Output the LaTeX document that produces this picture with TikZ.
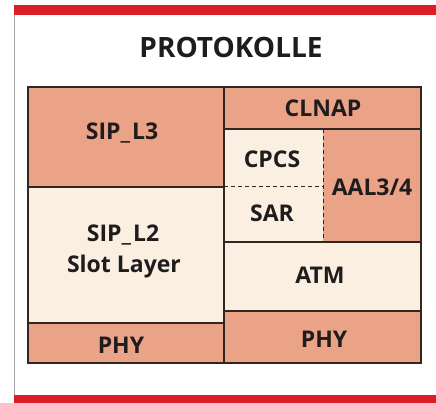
\documentclass[tikz,border=0pt]{standalone}
\usepackage{fontspec}
\setmainfont{Open Sans}
\definecolor{salmon}{RGB}{235,163,135}
\definecolor{cream}{RGB}{250,239,224}
\definecolor{redbar}{RGB}{218,30,40}
\definecolor{edge}{RGB}{50,38,34}
\definecolor{txt}{RGB}{30,28,28}
\tikzset{
  lbl/.style={font=\bfseries\fontsize{23}{27}\selectfont, text=txt, inner sep=0pt, anchor=center, align=center},
  cell/.style={draw=edge, line width=1.2pt},
  dashline/.style={draw=edge, line width=1pt, dash pattern=on 4pt off 3pt}
}
\begin{document}
\begin{tikzpicture}[x=1pt,y=-1pt]
\useasboundingbox (0,0) rectangle (436,403);
\fill[white] (0,0) rectangle (436,403);
% red bars
\fill[redbar] (14,5) rectangle (436,15);
\fill[redbar] (14,395) rectangle (436,403);
% left frame line
\draw[gray!70, line width=0.8pt] (14,15) -- (14,395);
% title
\node[lbl, font=\bfseries\fontsize{28}{32}\selectfont] (title) at (231,47) {PROTOKOLLE};
% cells
\fill[salmon] (28,87) rectangle (224,187);
\fill[cream] (28,187) rectangle (224,323);
\fill[salmon] (28,323) rectangle (224,363);
\fill[salmon] (224,87) rectangle (421,129);
\fill[cream] (224,129) rectangle (323,242);
\fill[salmon] (323,129) rectangle (421,242);
\fill[cream] (224,242) rectangle (421,311);
\fill[salmon] (224,311) rectangle (421,363);
% borders
\draw[cell] (28,87) rectangle (421,363);
\draw[cell] (224,87) -- (224,363);
\draw[cell] (28,187) -- (224,187);
\draw[cell] (28,323) -- (224,323);
\draw[cell] (224,129) -- (421,129);
\draw[cell] (224,242) -- (421,242);
\draw[cell] (224,311) -- (421,311);
\draw[dashline] (224,187) -- (323,187);
\draw[dashline] (323,129) -- (323,242);
% labels
\node[lbl] (sipl3) at (122,133) {SIP\_\hspace{2pt}L3};
\node[lbl] (sipl2) at (123,235) {SIP\_\hspace{2pt}L2};
\node[lbl] (slot) at (124,267) {Slot Layer};
\node[lbl] (phyl) at (121,345) {PHY};
\node[lbl] (clnap) at (323,108) {CLNAP};
\node[lbl] (cpcs) at (272,159) {CPCS};
\node[lbl] (sar) at (272,213) {SAR};
\node[lbl] (aal) at (372,187) {AAL3/4};
\node[lbl] (atm) at (320,275) {ATM};
\node[lbl] (phyr) at (324,339) {PHY};
\end{tikzpicture}
\end{document}
